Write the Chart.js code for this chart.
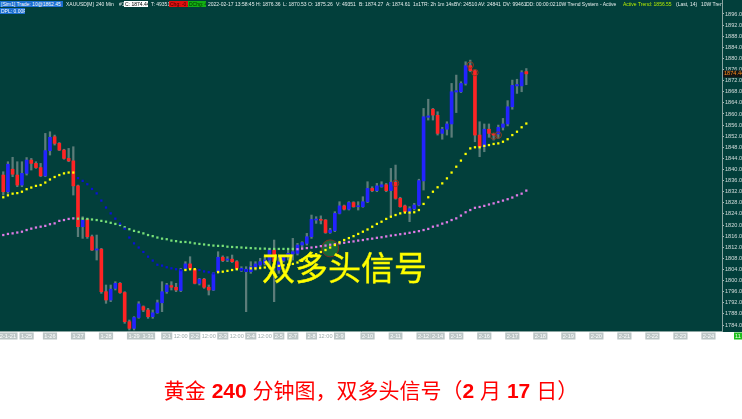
<!DOCTYPE html>
<html>
<head>
<meta charset="utf-8">
<script src="https://cdn.jsdelivr.net/npm/chart.js@4.4.1/dist/chart.umd.min.js"></script>
<style>
html,body{margin:0;padding:0;background:#ffffff;}
#wrap{position:relative;width:742px;height:419px;overflow:hidden;}
#c{position:absolute;left:0;top:0;}
#hdr{position:absolute;left:0;top:0;width:722px;height:15px;overflow:hidden;}
.hs{position:absolute;font-family:'Liberation Sans',Arial,sans-serif;font-size:5px;line-height:6.4px;height:6.4px;color:#e6eeee;white-space:nowrap;padding:0 1px;}
#big{position:absolute;left:262px;top:250px;font-family:'Noto Sans CJK SC',sans-serif;font-size:33px;line-height:33px;color:#ffff00;white-space:nowrap;-webkit-text-stroke:0.4px #f0f000;}
#cap{position:absolute;left:0;top:380px;width:742px;text-align:center;font-family:'Liberation Sans','Noto Sans CJK SC',sans-serif;font-size:21px;line-height:21px;color:#ff0000;white-space:nowrap;}
#cap b{font-weight:bold;}
</style>
</head>
<body>
<div id="wrap">
<canvas id="c" width="742" height="419"></canvas>
<div id="hdr"></div>
<div id="big">双多头信号</div>
<div id="cap">黄金 <b>240</b> 分钟图，双多头信号（<b>2</b> 月 <b>17</b> 日）</div>
</div>
<script>
// ---- candle data (XAUUSD 240 min) ----
const opens = [1838.0,1832.0,1840.1,1838.0,1834.4,1838.6,1843.4,1842.2,1840.7,1837.7,
1846.8,1851.8,1849.4,1847.0,1844.0,1843.1,1834.1,1819.4,1822.1,1815.8,
1811.0,1811.3,1796.0,1793.0,1797.2,1799.0,1795.7,1785.2,1782.8,1786.7,
1790.6,1789.4,1787.0,1788.4,1792.0,1796.0,1798.2,1797.6,1796.4,1804.4,
1806.0,1804.1,1799.0,1800.5,1797.6,1796.6,1803.2,1808.4,1807.4,1807.7,
1806.8,1803.8,1803.2,1803.2,1804.8,1805.6,1806.2,1807.4,1811.0,1803.8,
1807.2,1808.9,1809.6,1809.8,1812.8,1813.4,1815.8,1821.8,1822.0,1821.8,
1817.3,1818.0,1824.2,1826.9,1825.7,1828.1,1826.6,1826.6,1828.4,1833.2,
1832.4,1833.8,1834.5,1832.4,1835.4,1829.6,1826.9,1824.8,1825.9,1827.2,
1835.9,1858.8,1861.7,1859.5,1853.0,1854.5,1856.4,1867.9,1868.0,1871.0,
1877.4,1875.6,1852.4,1848.2,1854.5,1852.8,1852.8,1855.2,1856.4,1862.6,
1870.1,1870.1,1875.26];
const highs = [1839.2,1842.8,1844.4,1842.8,1842.8,1844.3,1844.0,1842.8,1842.2,1853.0,
1853.6,1852.4,1849.7,1847.3,1847.6,1848.2,1834.4,1823.0,1822.4,1816.4,
1816.4,1811.6,1798.4,1798.4,1799.6,1799.3,1796.0,1785.8,1787.0,1792.4,
1790.9,1790.0,1789.4,1793.0,1799.6,1799.0,1799.6,1799.0,1804.4,1806.8,
1808.6,1804.4,1800.8,1800.8,1798.4,1802.9,1810.4,1808.9,1808.6,1809.2,
1807.2,1805.0,1805.0,1806.8,1806.8,1808.0,1808.6,1811.6,1814.6,1808.6,
1808.9,1811.0,1815.2,1813.4,1814.0,1817.0,1823.6,1823.0,1823.3,1822.0,
1818.8,1824.8,1828.4,1827.2,1828.4,1828.4,1828.4,1830.2,1835.6,1833.8,
1835.0,1835.6,1835.0,1840.4,1841.6,1830.0,1827.2,1826.6,1827.8,1836.5,
1862.0,1865.3,1862.0,1860.8,1855.2,1857.2,1871.0,1874.0,1871.6,1878.8,
1879.4,1875.8,1857.2,1856.4,1856.4,1853.0,1856.0,1858.4,1864.8,1872.2,
1872.5,1875.6,1876.36];
const lows = [1830.8,1831.4,1837.4,1833.8,1833.8,1838.0,1839.8,1840.4,1837.4,1837.4,
1845.2,1848.8,1846.8,1843.7,1842.8,1830.8,1815.8,1815.2,1815.2,1810.8,
1807.4,1795.4,1791.8,1792.4,1796.6,1795.4,1784.6,1782.2,1782.2,1786.4,
1788.8,1786.4,1786.4,1788.2,1788.8,1795.4,1796.6,1796.0,1796.0,1803.8,
1803.8,1798.8,1798.4,1797.2,1794.8,1796.4,1802.6,1806.8,1806.8,1806.5,
1803.8,1803.2,1788.8,1802.6,1803.8,1805.0,1805.6,1805.6,1792.4,1802.6,
1806.7,1807.4,1807.4,1809.2,1811.6,1812.8,1815.2,1820.6,1820.4,1817.0,
1817.0,1817.6,1824.0,1825.4,1825.4,1826.4,1825.4,1826.4,1828.1,1832.0,
1832.0,1833.6,1832.0,1823.0,1829.3,1826.4,1824.5,1821.2,1825.4,1826.9,
1832.6,1857.8,1857.8,1852.4,1850.9,1852.4,1851.6,1860.5,1867.7,1870.4,
1875.2,1850.0,1844.6,1846.4,1851.6,1850.6,1851.2,1854.2,1855.7,1861.7,
1867.4,1868.0,1870.53];
const closes = [1832.0,1841.9,1838.3,1834.4,1838.6,1843.4,1842.2,1840.7,1837.7,1846.8,
1851.6,1849.4,1847.0,1844.0,1843.1,1834.1,1819.4,1821.8,1815.8,1811.0,
1811.4,1796.0,1793.0,1796.9,1799.0,1795.7,1785.2,1782.8,1786.7,1791.6,
1789.4,1787.0,1788.4,1792.0,1796.0,1798.4,1797.6,1796.6,1803.8,1806.0,
1804.4,1799.0,1800.5,1797.6,1796.6,1802.4,1808.4,1807.2,1807.7,1806.8,
1804.4,1804.4,1804.1,1805.0,1806.0,1806.8,1807.4,1811.0,1806.8,1806.8,
1808.4,1809.8,1810.4,1812.8,1813.7,1815.8,1822.0,1822.0,1821.7,1817.3,
1818.2,1824.2,1826.9,1825.7,1828.1,1826.6,1826.9,1828.4,1833.2,1832.4,
1834.1,1834.5,1832.4,1835.4,1829.6,1826.6,1824.8,1825.9,1827.2,1836.0,
1859.0,1859.3,1859.6,1853.0,1854.5,1856.4,1868.0,1868.4,1871.0,1877.4,
1875.6,1852.4,1848.2,1854.5,1853.0,1852.4,1855.2,1856.4,1862.6,1870.3,
1870.6,1874.9,1874.44];

// ---- 10W trend stop (yellow = up, blue = down) ----
const trendStop = [1830.0,1830.7,1831.3,1831.5,1832.0,1832.9,1833.5,1834.1,1834.4,1835.3,
1836.4,1837.3,1838.0,1838.6,1838.9,1838.9,1836.9,1835.9,1834.7,1833.0,
1831.4,1828.8,1826.3,1824.2,1822.3,1820.5,1818.7,1815.5,1813.4,1811.9,
1810.3,1808.6,1807.2,1805.7,1805.4,1804.8,1804.4,1804.1,1803.8,1803.8,
1804.1,1804.1,1803.8,1803.3,1803.0,1802.6,1803.1,1803.2,1803.5,1803.8,
1804.1,1803.8,1803.6,1804.4,1804.4,1804.5,1804.7,1804.8,1805.0,1805.3,
1805.5,1805.7,1806.0,1806.5,1807.1,1807.7,1808.6,1809.5,1810.3,1811.0,
1811.9,1812.8,1813.8,1814.6,1815.3,1816.0,1816.8,1817.6,1818.4,1819.4,
1820.4,1821.2,1822.2,1823.0,1823.6,1824.2,1824.5,1824.5,1824.6,1825.4,
1827.6,1830.0,1832.0,1833.6,1835.0,1836.8,1838.9,1841.0,1843.2,1845.6,
1847.6,1848.0,1848.0,1848.5,1848.8,1849.2,1849.4,1850.0,1850.9,1852.4,
1853.6,1855.2,1856.55];
const trendDir = [1,1,1,1,1,1,1,1,1,1, 1,1,1,1,1,1,-1,-1,-1,-1,
-1,-1,-1,-1,-1,-1,-1,-1,-1,-1, -1,-1,-1,-1,-1,-1,-1,-1,-1,1,
1,1,-1,-1,-1,-1,1,1,1,1, 1,-1,-1,1,1,1,1,1,1,1,
1,1,1,1,1,1,1,1,1,1, 1,1,1,1,1,1,1,1,1,1,
1,1,1,1,1,1,1,1,1,1, 1,1,1,1,1,1,1,1,1,1,
1,1,1,1,1,1,1,1,1,1, 1,1,1];

// ---- slow moving average (pink = up, green = down) ----
const maValues = [1816.4,1816.8,1817.0,1817.3,1817.6,1818.2,1818.7,1819.1,1819.4,1819.7,
1820.3,1820.6,1821.5,1821.8,1822.2,1822.4,1822.3,1822.3,1822.2,1822.0,
1821.8,1821.5,1821.2,1820.8,1820.4,1820.0,1819.2,1818.5,1817.9,1817.5,
1817.0,1816.4,1816.0,1815.5,1815.1,1814.9,1814.4,1814.2,1813.9,1813.9,
1813.7,1813.4,1813.2,1813.0,1812.8,1812.6,1812.5,1812.5,1812.2,1812.1,
1812.0,1811.9,1811.8,1811.7,1811.6,1811.5,1811.5,1811.4,1811.4,1811.4,
1811.4,1811.4,1811.4,1811.3,1811.5,1811.7,1811.9,1812.1,1812.4,1812.6,
1812.9,1813.1,1813.4,1813.6,1813.9,1814.1,1814.4,1814.6,1814.9,1815.1,
1815.4,1815.6,1815.9,1816.2,1816.4,1816.7,1816.9,1817.2,1817.5,1817.8,
1818.2,1818.6,1819.4,1819.8,1820.5,1821.0,1821.8,1822.4,1823.4,1824.6,
1825.4,1826.2,1826.5,1826.9,1827.4,1827.8,1828.3,1828.8,1829.3,1829.9,
1830.7,1831.3,1832.4];
const maDir = [1,1,1,1,1,1,1,1,1,1, 1,1,1,1,1,1,-1,-1,-1,-1,
-1,-1,-1,-1,-1,-1,-1,-1,-1,-1, -1,-1,-1,-1,-1,-1,-1,-1,-1,-1,
-1,-1,-1,-1,-1,-1,-1,-1,-1,-1, -1,-1,-1,-1,-1,-1,-1,-1,-1,-1,
-1,-1,-1,1,1,1,1,1,1,1, 1,1,1,1,1,1,1,1,1,1,
1,1,1,1,1,1,1,1,1,1, 1,1,1,1,1,1,1,1,1,1,
1,1,1,1,1,1,1,1,1,1, 1,1,1];

// ---- signal markers ----
const crossSignal = [70, 1811.6];
const ringSlots = [84, 100, 101, 105, 106];
const ringPrices = [1835.0, 1877.6, 1874.9, 1852.0, 1852.4];

// ---- axes ----
const yTickValues = [1784,1788,1792,1796,1800,1804,1808,1812,1816,1820,1824,1828,1832,1836,1840,
1844,1848,1852,1856,1860,1864,1868,1872,1876,1880,1884,1888,1892,1896];
const dateTickSlots = [1,5,10,16,22,28,31,35,38,41,44,47,50,53,56,59,62,66,69,72,78,84,90,93,97,103,109,115,121,127,133,139,145,151];
const dateTickLabels = ['2-1-21','1-25','1-26','1-27','1-28','1-29','1-31','2-1','12:00','2-2','12:00','2-3','12:00','2-4','12:00','2-5','2-7','2-8','12:00','2-9','2-10','2-11','2-12','2-14','2-15','2-16','2-17','2-18','2-19','2-20','2-21','2-22','2-23','2-24'];
const lastPrice = 1874.44;

// ---- header text ----
const headerSegs = [
 [0,1,'[Sim1]  Trade: 10@1862.45','#1b6fd1','#ffffff',63],
 [65,1,'XAUUSD[M]'],[95,1,'240 Min'],[118,1,'#1'],
 [124,1,'C: 1874.44','#ffffff','#000000',24],
 [150,1,'T: 49351'],
 [169,1,'Chg: -0.76','#e01010','#3a0000',19],
 [188,1,'DChg: 4.49','#13b013','#002a00',18],
 [207,1,'2022-02-17 13:58:45'],[255,1,'H: 1876.36'],[282,1,'L: 1870.53'],[307,1,'O: 1875.26'],
 [335,1,'V: 49351'],[358,1,'B: 1874.27'],[385,1,'A: 1874.61'],[412,1,'1x1'],[420,1,'TR: 2h 1m 14s'],
 [453,1,'BV: 24510'],[477,1,'AV: 24841'],[502,1,'DV: 99461'],[525,1,'DD: 00:00:02'],
 [555,1,'10W Trend System - Active'],[622,1,'Active Trend: 1856.55',null,'#b8f000'],
 [675,1,'(Last, 14)'],[700,1,'10W Trend System'],
 [0,8,'DPL: 0.00P','#1b6fd1','#ffffff',25]
];
const hdr = document.getElementById('hdr');
headerSegs.forEach(s => {
  const e = document.createElement('span');
  e.className = 'hs';
  e.textContent = s[2];
  e.style.left = s[0] + 'px';
  e.style.top = s[1] + 'px';
  if (s[3]) e.style.background = s[3];
  if (s[4]) e.style.color = s[4];
  if (s[5]) { e.style.width = (s[5] - 2) + 'px'; e.style.overflow = 'hidden'; }
  hdr.appendChild(e);
});

const idx = opens.map((_, i) => i);
const bodyColors = idx.map(i => closes[i] >= opens[i] ? '#2323ff' : '#ff2424');

const FONT = 'Liberation Sans';
const bgPlugin = {
  id: 'bgPlugin',
  beforeDraw(chart) {
    const ctx = chart.ctx;
    ctx.save();
    ctx.fillStyle = '#ffffff';
    ctx.fillRect(0, 0, chart.width, chart.height);
    ctx.fillStyle = '#023f3b';
    ctx.fillRect(0, 0, chart.width, 332);
    const xs = chart.scales.x;
    ctx.font = '5.6px "' + FONT + '"';
    dateTickSlots.forEach((s, i) => {
      if (dateTickLabels[i] === '12:00') return;
      const px = xs.getPixelForValue(s);
      const w = ctx.measureText(dateTickLabels[i]).width + 3;
      ctx.fillStyle = '#bcc6c6';
      ctx.fillRect(px - w / 2, 332.5, w, 7);
    });
    ctx.restore();
  },
  afterDraw(chart) {
    const ctx = chart.ctx;
    const ys = chart.scales.y;
    const py = ys.getPixelForValue(lastPrice);
    ctx.save();
    ctx.fillStyle = '#141414';
    ctx.fillRect(723, py - 3.5, 19, 7);
    ctx.fillStyle = '#ff8c1a';
    ctx.font = '5.6px "' + FONT + '"';
    ctx.textBaseline = 'middle';
    ctx.fillText(lastPrice.toFixed(2), 724, py);
    ctx.fillStyle = '#1dbf1d';
    ctx.fillRect(734, 332.5, 8, 7);
    ctx.fillStyle = '#eaffea';
    ctx.fillText('11', 735, 336);
    ctx.restore();
  }
};

new Chart(document.getElementById('c'), {
  type: 'bar',
  data: {
    datasets: [
      { type: 'scatter', label: '10W Trend', data: idx.map(i => ({ x: i, y: trendStop[i] })),
        pointStyle: 'rect', pointRadius: 1.6, pointBorderWidth: 0,
        pointBackgroundColor: trendDir.map(d => d > 0 ? '#ffff00' : '#0a12d6'), order: 1 },
      { type: 'scatter', label: 'MA', data: idx.map(i => ({ x: i, y: maValues[i] })),
        pointStyle: 'rect', pointRadius: 1.6, pointBorderWidth: 0,
        pointBackgroundColor: maDir.map(d => d > 0 ? '#e07ae6' : '#78e078'), order: 2 },
      { type: 'scatter', label: 'Cross', data: [{ x: crossSignal[0], y: crossSignal[1] }],
        pointRadius: 8.5, pointBackgroundColor: '#17683a', pointBorderColor: '#7a2c22', pointBorderWidth: 1, order: 3 },
      { type: 'scatter', label: 'Rings', data: ringSlots.map((s, i) => ({ x: s, y: ringPrices[i] })),
        pointRadius: 3.2, pointBackgroundColor: 'rgba(0,0,0,0)', pointBorderColor: '#8a3a22', pointBorderWidth: 1, order: 3 },
      { type: 'bar', label: 'Body', data: idx.map(i => ({ x: i, y: [opens[i], closes[i]] })),
        backgroundColor: bodyColors, borderWidth: 0, grouped: false, maxBarThickness: 3,
        barPercentage: 1, categoryPercentage: 1, minBarLength: 1, order: 4 },
      { type: 'bar', label: 'Wick', data: idx.map(i => ({ x: i, y: [lows[i], highs[i]] })),
        backgroundColor: '#5c7c79', borderWidth: 0, grouped: false, maxBarThickness: 1.6,
        barPercentage: 1, categoryPercentage: 1, order: 5 }
    ]
  },
  options: {
    responsive: false, animation: false, events: [],
    layout: { padding: 0, autoPadding: false },
    plugins: { legend: { display: false }, tooltip: { enabled: false }, title: { display: false } },
    scales: {
      x: {
        type: 'linear', min: -0.7, max: 153.9, offset: false,
        grid: { display: true, drawOnChartArea: false, drawTicks: false },
        border: { display: true, color: '#8ca4a1', width: 1 },
        ticks: {
          autoSkip: false, maxRotation: 0, minRotation: 0, padding: 2,
          font: { family: FONT, size: 5.6 },
          color: c => (dateTickLabels[c.index] === '12:00' ? '#9fadad' : '#ffffff'),
          callback: (v, i) => dateTickLabels[i]
        },
        afterBuildTicks: s => { s.ticks = dateTickSlots.map(v => ({ value: v })); },
        afterFit: s => { s.height = 88; s.paddingLeft = 0; s.paddingRight = 0; }
      },
      y: {
        type: 'linear', position: 'right', min: 1781.84, max: 1901.04, beginAtZero: false,
        grid: { display: true, drawOnChartArea: false, drawTicks: true, tickLength: 2, color: '#a8b8b6' },
        border: { display: true, color: '#8ca4a1', width: 1 },
        ticks: { padding: 1, font: { family: FONT, size: 5.6 }, color: '#d4dddc', callback: v => Number(v).toFixed(2) },
        afterBuildTicks: s => { s.ticks = yTickValues.map(v => ({ value: v })); },
        afterFit: s => { s.width = 20; s.paddingTop = 0; s.paddingBottom = 0; }
      }
    }
  },
  plugins: [bgPlugin]
});
</script>
</body>
</html>
